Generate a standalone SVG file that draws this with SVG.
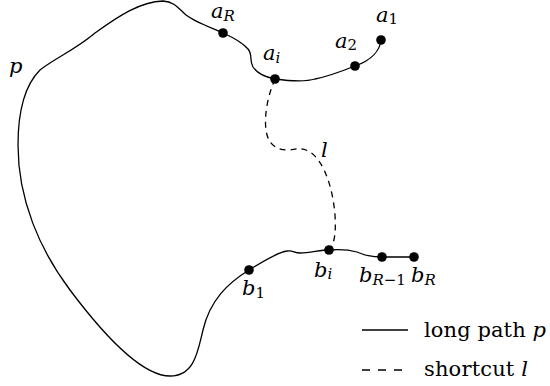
<svg xmlns="http://www.w3.org/2000/svg" width="550" height="386" viewBox="0 0 550 386">
<style>
.path{fill:none;stroke:#000;stroke-width:1.3}
.dash{fill:none;stroke:#000;stroke-width:1.3;stroke-dasharray:6 5}
.dot{fill:#000}
.m{font-family:"DejaVu Serif","Liberation Serif",serif;font-style:italic;font-size:21px;fill:#000}
.s{font-size:15px}
.u{font-style:normal}
.t{font-family:"DejaVu Serif","Liberation Serif",serif;font-size:21px;fill:#000}
</style>
<rect width="550" height="386" fill="#fff"/>
<g id="connectors">
<path id="long-path" class="path" d="M381,40 C380,50 372,60 355,66 C340,72 325,77 315,79 C305,82 290,81 275,79 C265,77 257,73 253,67 C249,60 253,55 248,49 C242,42 232,37 223,33 C212,28 195,22 186,15 C178,8 175,2 163,1 C140,2 120,15 95,33 C75,50 55,58 40,70 C25,85 18,110 18,145 C18,200 40,250 70,290 C100,330 140,376 170,376 C195,376 198,350 203,330 C210,300 228,283 249,270 C262,262 278,252 287,251 C293,250 294,253 300,253 C310,253 320,250 329,250 C340,249 350,250 357,252 C365,255 370,257 382,257 L414,257"/>
<path id="shortcut" class="dash" d="M275,79 C268,95 264,115 266,130 C268,145 277,150 287,150 C295,150 300,146 310,152 C325,162 333,190 335,215 C336,232 335,243 329,250"/>
</g>
<g id="node-a1"><circle class="dot" cx="381" cy="40" r="4.8"/><text class="m" x="376" y="22">a<tspan class="s u" dy="2">1</tspan></text></g>
<g id="node-a2"><circle class="dot" cx="355" cy="66" r="4.8"/><text class="m" x="335" y="48">a<tspan class="s u" dy="2">2</tspan></text></g>
<g id="node-ai"><circle class="dot" cx="275" cy="79" r="4.8"/><text class="m" x="263" y="60">a<tspan class="s" dy="3">i</tspan></text></g>
<g id="node-aR"><circle class="dot" cx="223" cy="33" r="4.8"/><text class="m" x="211" y="18">a<tspan class="s" dy="3">R</tspan></text></g>
<g id="node-b1"><circle class="dot" cx="249" cy="270" r="4.8"/><text class="m" x="242" y="295">b<tspan class="s u" dy="3">1</tspan></text></g>
<g id="node-bi"><circle class="dot" cx="329" cy="250" r="4.8"/><text class="m" x="314" y="277">b<tspan class="s" dy="2">i</tspan></text></g>
<g id="node-bR-1"><circle class="dot" cx="382" cy="257" r="4.8"/><text class="m" x="359" y="282">b<tspan class="s" dy="3">R</tspan><tspan class="s u">−1</tspan></text></g>
<g id="node-bR"><circle class="dot" cx="414" cy="257" r="4.8"/><text class="m" x="411" y="282">b<tspan class="s" dy="3">R</tspan></text></g>
<g id="labels">
<text class="m" x="9" y="73">p</text>
<text class="m" x="321" y="157">l</text>
</g>
<g id="legend">
<line class="path" x1="362" y1="330" x2="408" y2="330"/>
<line class="path" x1="362" y1="370" x2="402" y2="370" stroke-dasharray="8 8"/>
<text class="t" x="424" y="337" textLength="122" lengthAdjust="spacing">long path <tspan font-style="italic">p</tspan></text>
<text class="t" x="424" y="376" textLength="104" lengthAdjust="spacing">shortcut <tspan font-style="italic">l</tspan></text>
</g>
</svg>
